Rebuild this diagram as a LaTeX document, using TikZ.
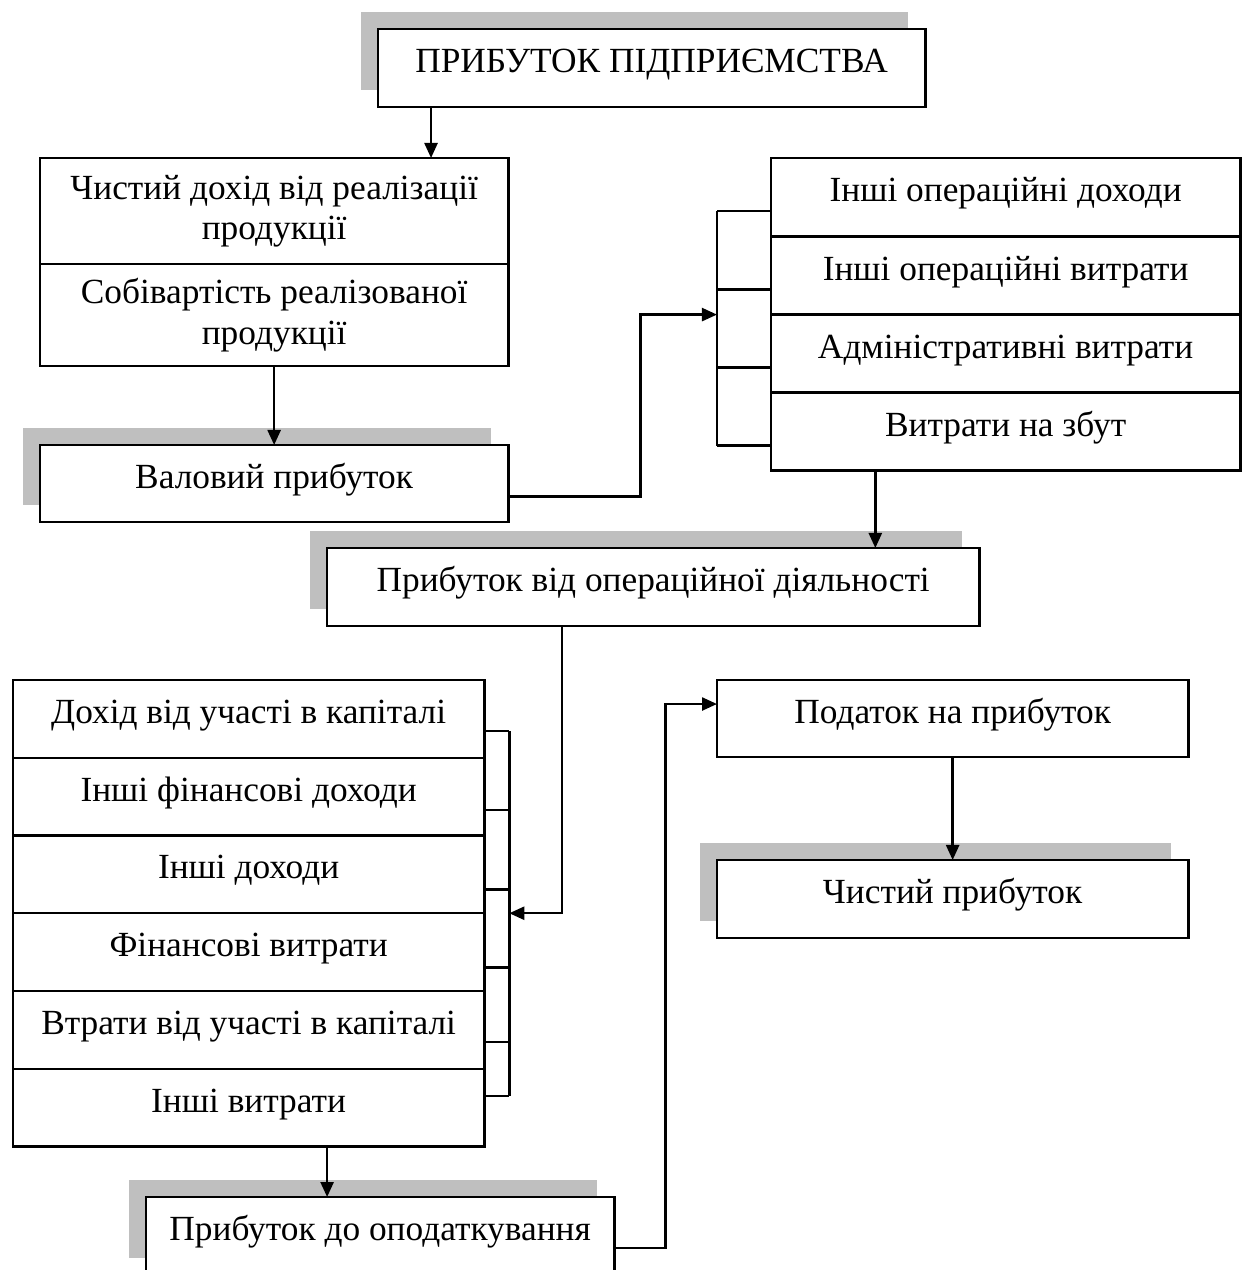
\documentclass[tikz,border=0pt]{standalone}
\usepackage{fontspec}
\setmainfont{Liberation Serif}
\usetikzlibrary{arrows.meta, shadows}

\tikzset{
  cell/.style={draw, fill=white, line width=0.7pt, outer sep=0pt, inner sep=0pt,
    align=center, anchor=north west, font=\fontsize{10.05}{11.5}\selectfont},
  box/.style={cell, text height=0.25cm, text depth=0.16cm},
  shade/.style={drop shadow={shadow xshift=-0.17cm, shadow yshift=0.17cm, fill=gray!50, opacity=1}},
  link/.style={line width=0.7pt, -{Triangle[length=0.15cm, width=0.13cm]}},
  bar/.style={line width=0.7pt},
}

\begin{document}
\begin{tikzpicture}[x=0.01cm, y=-0.01cm]
\useasboundingbox (0,0) rectangle (1246,1270);

\node[box, shade, minimum width=5.47cm, minimum height=0.78cm] (title) at (378,29) {ПРИБУТОК ПІДПРИЄМСТВА};

% gross profit block
\node[cell, minimum width=4.68cm, minimum height=1.06cm] (dohid) at (40,158) {Чистий дохід від реалізації\\продукції};
\node[cell, minimum width=4.68cm, minimum height=1.02cm] (sobiv) at (dohid.south west) {Собівартість реалізованої\\продукції};
\node[box, shade, minimum width=4.68cm, minimum height=0.77cm] (valovyi) at (40,445) {Валовий прибуток};

% operating items
\node[box, minimum width=4.69cm, minimum height=0.785cm] (b1) at (771,158) {Інші операційні доходи};
\node[box, minimum width=4.69cm, minimum height=0.78cm] (b2) at (b1.south west) {Інші операційні витрати};
\node[box, minimum width=4.69cm, minimum height=0.78cm] (b3) at (b2.south west) {Адміністративні витрати};
\node[box, minimum width=4.69cm, minimum height=0.78cm] (b4) at (b3.south west) {Витрати на збут};
\node[box, shade, minimum width=6.52cm, minimum height=0.78cm] (oper) at (327,548) {Прибуток від операційної діяльності};

% financial and other items
\node[box, minimum width=4.71cm, minimum height=0.777cm] (c1) at (13,680) {Дохід від участі в капіталі};
\node[box, minimum width=4.71cm, minimum height=0.777cm] (c2) at (c1.south west) {Інші фінансові доходи};
\node[box, minimum width=4.71cm, minimum height=0.777cm] (c3) at (c2.south west) {Інші доходи};
\node[box, minimum width=4.71cm, minimum height=0.777cm] (c4) at (c3.south west) {Фінансові витрати};
\node[box, minimum width=4.71cm, minimum height=0.777cm] (c5) at (c4.south west) {Втрати від участі в капіталі};
\node[box, minimum width=4.71cm, minimum height=0.777cm] (c6) at (c5.south west) {Інші витрати};
\node[box, shade, minimum width=4.68cm, minimum height=0.78cm] (dopod) at (146,1197) {Прибуток до оподаткування};

\node[box, minimum width=4.71cm, minimum height=0.77cm] (podatok) at (717,680) {Податок на прибуток};
\node[box, shade, minimum width=4.71cm, minimum height=0.78cm] (chystyi) at (717,860) {Чистий прибуток};

% connectors
\coordinate (t1) at ([xshift=0.53cm]title.south west);
\draw[link] (t1) -- (t1 |- dohid.north);
\draw[link] (sobiv.south) -- (valovyi.north);

\foreach \i in {1,...,4}
  \draw[bar] ([yshift=-0.53cm]b\i.north west) -- ++(-0.54cm,0) coordinate (bt\i);
\draw[bar] (bt1) -- (bt4);
\draw[link] ([yshift=-0.13cm]valovyi.east) -- ++(1.32cm,0) |- (bt1 |- b2.south west);

\coordinate (opin) at ([xshift=-1.04cm]oper.north east);
\draw[link] (opin |- b4.south) -- (opin);

\foreach \i/\d in {1/0.51, 2/0.52, 3/0.54, 4/0.54, 5/0.51, 6/0.27}
  \draw[bar] ([yshift=-\d cm]c\i.north east) -- ++(0.25cm,0) coordinate (ct\i);
\draw[bar] (ct1) -- (ct6);
\draw[link] ([xshift=2.35cm]oper.south west) |- (ct1 |- c3.south east);

\coordinate (dpin) at ([xshift=1.81cm]dopod.north west);
\draw[link] (dpin |- c6.south) -- (dpin);
\draw[link] ([yshift=-0.51cm]dopod.north east) -- ++(0.51cm,0) |- ([yshift=-0.24cm]podatok.north west);
\draw[link] (podatok.south) -- (chystyi.north);
\end{tikzpicture}
\end{document}
